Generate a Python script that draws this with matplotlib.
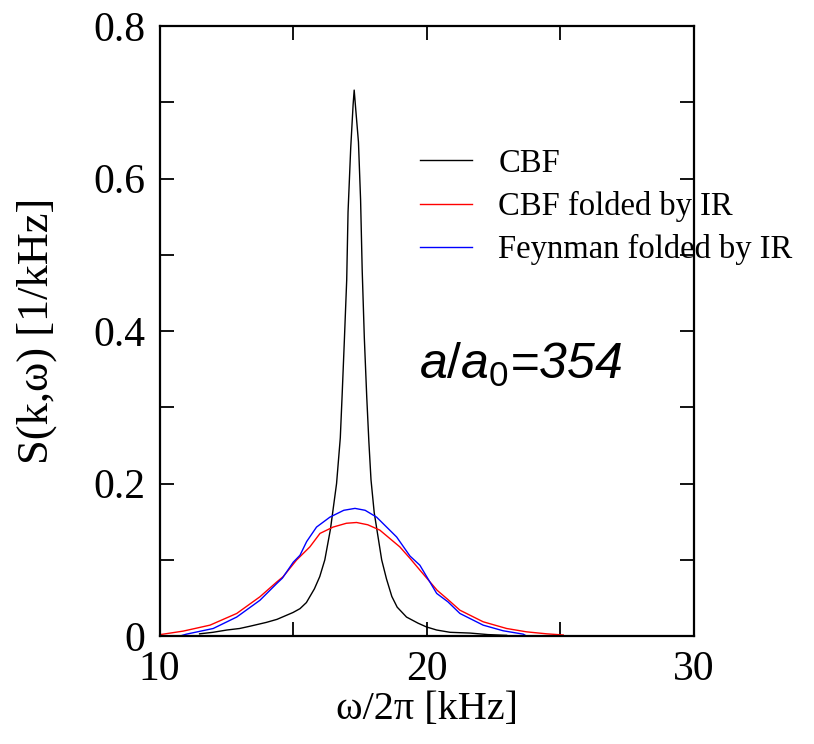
import matplotlib.pyplot as plt
from matplotlib.ticker import FixedLocator

# values
cbf_x = [11.5, 12.0, 12.52, 13.0, 13.39, 14.0, 14.4, 15.0, 15.26, 15.5, 15.8, 16.0, 16.19, 16.4,
         16.63, 16.77, 16.84, 16.92, 17.01, 17.06, 17.16, 17.25, 17.29, 17.35, 17.45, 17.53,
         17.59, 17.67, 17.76, 17.84, 17.92, 18.04, 18.32, 18.5, 18.7, 18.9, 19.25, 19.68, 20.0,
         20.38, 20.88, 21.63, 22.3, 23.0]
cbf_y = [0.003, 0.005, 0.008, 0.010, 0.013, 0.018, 0.022, 0.031, 0.036, 0.044, 0.062, 0.078, 0.100,
         0.140, 0.200, 0.260, 0.317, 0.386, 0.467, 0.556, 0.640, 0.697, 0.716, 0.690, 0.648, 0.572,
         0.480, 0.391, 0.314, 0.255, 0.205, 0.162, 0.100, 0.075, 0.052, 0.038, 0.025, 0.017, 0.012,
         0.008, 0.005, 0.004, 0.002, 0.001]

cbf_ir_x = [10.0, 10.14, 10.89, 11.89, 12.89, 13.76, 14.39, 14.63, 15.13, 15.63, 16.01, 16.5, 17.0,
            17.38, 17.8, 18.25, 19.0, 19.38, 19.75, 20.4, 20.8, 21.25, 22.12, 23.0, 23.75, 24.5, 25.12]
cbf_ir_y = [0.002, 0.0026, 0.0066, 0.0144, 0.0297, 0.0516, 0.071, 0.078, 0.0997, 0.117, 0.1347, 0.143,
            0.148, 0.149, 0.146, 0.139, 0.117, 0.102, 0.0866, 0.060, 0.048, 0.034, 0.0188, 0.010,
            0.0056, 0.003, 0.0015]

feyn_ir_x = [10.85, 11.01, 12.01, 12.89, 13.76, 14.39, 14.6, 15.01, 15.26, 15.51, 15.88, 16.38, 16.9,
             17.32, 17.7, 18.13, 18.88, 19.38, 19.75, 20.38, 20.8, 21.25, 22.12, 22.87, 23.62, 23.7]
feyn_ir_y = [0.001, 0.0026, 0.010, 0.025, 0.047, 0.069, 0.076, 0.097, 0.106, 0.124, 0.143, 0.156, 0.165,
             0.1675, 0.165, 0.156, 0.130, 0.105, 0.093, 0.056, 0.045, 0.0297, 0.0144, 0.007, 0.0026, 0.001]

labels = ['CBF', 'CBF folded by IR', 'Feynman folded by IR']

plt.rcParams['font.family'] = ['Liberation Serif', 'DejaVu Serif']
plt.rcParams['mathtext.fontset'] = 'custom'
plt.rcParams['mathtext.it'] = 'Liberation Sans:italic'
plt.rcParams['mathtext.rm'] = 'Liberation Sans'

fig = plt.figure(figsize=(8.14, 7.44), dpi=100)
ax = fig.add_axes([0.196, 0.145, 0.656, 0.82])

ax.plot(cbf_x, cbf_y, color='black', lw=1.0, label=labels[0])
ax.plot(cbf_ir_x, cbf_ir_y, color='red', lw=1.0, label=labels[1])
ax.plot(feyn_ir_x, feyn_ir_y, color='blue', lw=1.0, label=labels[2])

ax.set_xlim(10, 30)
ax.set_ylim(0, 0.8)

# ticks on all four sides, pointing inward
ax.xaxis.set_major_locator(FixedLocator([10, 20, 30]))
ax.xaxis.set_minor_locator(FixedLocator([15, 25]))
ax.yaxis.set_major_locator(FixedLocator([0, 0.2, 0.4, 0.6, 0.8]))
ax.yaxis.set_minor_locator(FixedLocator([0.1, 0.3, 0.5, 0.7]))
ax.set_yticklabels(['0', '0.2', '0.4', '0.6', '0.8'])
ax.tick_params(which='both', direction='in', top=True, right=True, length=10, width=1.3,
               labelsize=30)
ax.tick_params(axis='x', pad=10)
ax.tick_params(axis='y', pad=10)
for s in ax.spines.values():
    s.set_linewidth(1.6)

ax.set_xlabel('ω/2π [kHz]', fontsize=29, labelpad=2)
ax.set_ylabel('S(k,ω) [1/kHz]', fontsize=32, labelpad=26)

ax.text(0.485, 0.444, '$a/a_0$=354', transform=ax.transAxes, fontsize=36,
        family='Liberation Sans', style='italic', va='center')

ax.legend(loc='upper left', bbox_to_anchor=(0.488, 0.80), frameon=False, fontsize=23.5,
          handlelength=1.6, handletextpad=0.8, labelspacing=0.38, borderpad=0, borderaxespad=0)

fig.savefig('out.png', dpi=100)
